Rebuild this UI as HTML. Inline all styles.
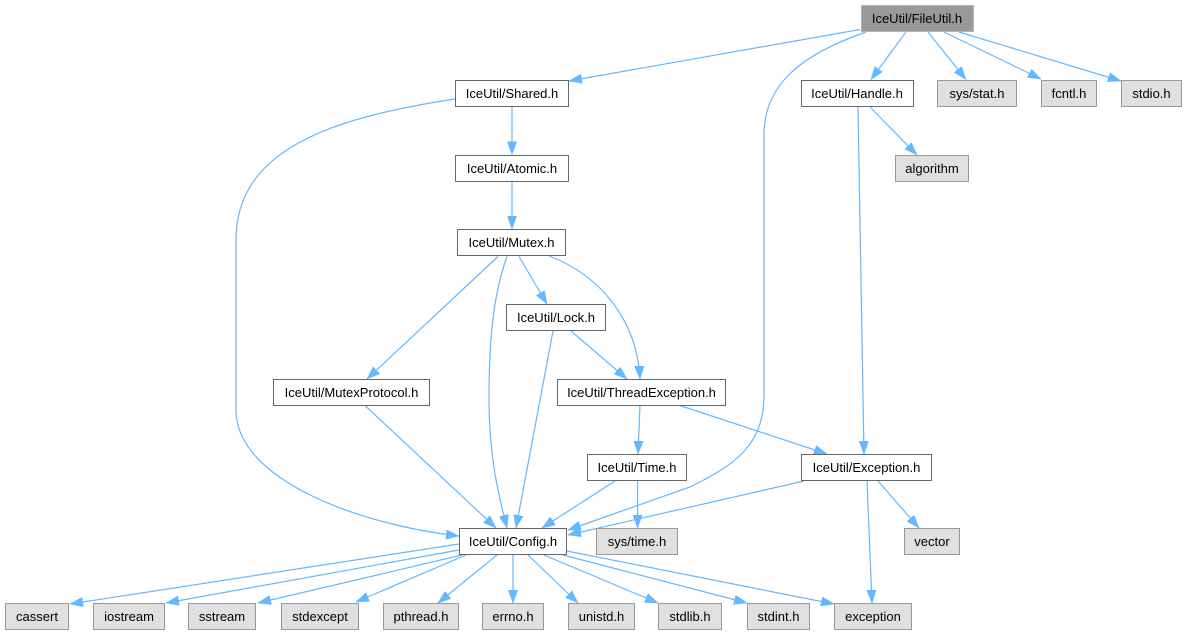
<!DOCTYPE html>
<html>
<head>
<meta charset="utf-8">
<style>
html,body{margin:0;padding:0;background:#fff;}
svg{display:block;}
text{font-family:"Liberation Sans",Arial,sans-serif;font-size:13px;fill:#000;text-anchor:middle;}
.e{fill:none;stroke:#63b8ff;stroke-width:1.2;marker-end:url(#ah);}
.n{fill:#fff;stroke:#666;stroke-width:1;}
.x{fill:#e0e0e0;stroke:#999;stroke-width:1;}
.r{fill:#999;stroke:#b5b5b5;stroke-width:1;}
</style>
</head>
<body>
<svg width="1188" height="635" viewBox="0 0 1188 635" xmlns="http://www.w3.org/2000/svg">
<defs>
<marker id="ah" viewBox="0 0 13 9.5" refX="13" refY="4.75" markerWidth="13" markerHeight="9.5" markerUnits="userSpaceOnUse" orient="auto">
<path d="M0,0 L13,4.75 L0,9.5 z" fill="#63b8ff" stroke="#63b8ff" stroke-width="0.5"/>
</marker>
</defs>

<!-- edges -->
<path class="e" d="M860,29.5 L569,81"/>
<path class="e" d="M866,32 C800,55 764,85 764,135 L764,395 C764,445 735,465 690,487 L568,530"/>
<path class="e" d="M906,32 L871,79.5"/>
<path class="e" d="M928,32 L966,79.5"/>
<path class="e" d="M944,32 L1041,79"/>
<path class="e" d="M959,32 L1121,81"/>
<path class="e" d="M512,107 L512,154.5"/>
<path class="e" d="M455,99 C330,118 236,150 236,240 L236,410 C236,480 360,525 459,536"/>
<path class="e" d="M512,182 L512,229"/>
<path class="e" d="M498,256.5 L367,379"/>
<path class="e" d="M507,256.5 C495,290 489,330 489,400 C489,460 500,500 507,528"/>
<path class="e" d="M519,256.5 L547,304"/>
<path class="e" d="M549,256 C600,275 637,320 640,379"/>
<path class="e" d="M571,331 L627,379"/>
<path class="e" d="M553,331 L516,528"/>
<path class="e" d="M365,405.5 L496,528"/>
<path class="e" d="M640,405.5 L638,454"/>
<path class="e" d="M680,405.5 L827,454"/>
<path class="e" d="M870,107 L917,155"/>
<path class="e" d="M858,107 L864,454"/>
<path class="e" d="M878,481 L919,528"/>
<path class="e" d="M867,481 L872,603"/>
<path class="e" d="M637.5,481 L637.5,528"/>
<path class="e" d="M615,481 L542,528"/>
<path class="e" d="M804,481 L568,535"/>
<path class="e" d="M459,544 L70,604"/>
<path class="e" d="M459,550 L166,603"/>
<path class="e" d="M462,555 L258,603"/>
<path class="e" d="M466,555 L356,602"/>
<path class="e" d="M497,555 L438,603"/>
<path class="e" d="M513,555 L513,603"/>
<path class="e" d="M528,555 L578,603"/>
<path class="e" d="M544,555 L658,603"/>
<path class="e" d="M563,555 L747,603"/>
<path class="e" d="M567,551 L834,604"/>

<!-- nodes -->
<rect class="r" x="861.5" y="5.5" width="112" height="26"/><text x="917" y="23">IceUtil/FileUtil.h</text>

<rect class="n" x="455.5" y="80.5" width="113" height="26"/><text x="512" y="98">IceUtil/Shared.h</text>
<rect class="n" x="801.5" y="80.5" width="112" height="26"/><text x="857" y="98">IceUtil/Handle.h</text>
<rect class="x" x="937.5" y="80.5" width="79" height="26"/><text x="977" y="98">sys/stat.h</text>
<rect class="x" x="1041.5" y="80.5" width="55" height="26"/><text x="1069" y="98">fcntl.h</text>
<rect class="x" x="1121.5" y="80.5" width="60" height="26"/><text x="1151.5" y="98">stdio.h</text>

<rect class="n" x="455.5" y="155.5" width="113" height="26"/><text x="512" y="173">IceUtil/Atomic.h</text>
<rect class="x" x="895.5" y="155.5" width="73" height="26"/><text x="932" y="173">algorithm</text>

<rect class="n" x="457.5" y="229.5" width="108" height="26"/><text x="511.5" y="247">IceUtil/Mutex.h</text>

<rect class="n" x="506.5" y="304.5" width="99" height="26"/><text x="556" y="322">IceUtil/Lock.h</text>

<rect class="n" x="273.5" y="379.5" width="156" height="26"/><text x="351.5" y="397">IceUtil/MutexProtocol.h</text>
<rect class="n" x="557.5" y="379.5" width="168" height="26"/><text x="641.5" y="397">IceUtil/ThreadException.h</text>

<rect class="n" x="587.5" y="454.5" width="99" height="26"/><text x="637" y="472">IceUtil/Time.h</text>
<rect class="n" x="801.5" y="454.5" width="130" height="26"/><text x="866.5" y="472">IceUtil/Exception.h</text>

<rect class="n" x="459.5" y="528.5" width="107" height="26"/><text x="513" y="546">IceUtil/Config.h</text>
<rect class="x" x="596.5" y="528.5" width="81" height="26"/><text x="637" y="546">sys/time.h</text>
<rect class="x" x="904.5" y="528.5" width="55" height="26"/><text x="932" y="546">vector</text>

<rect class="x" x="5.5" y="603.5" width="63" height="26"/><text x="37" y="621">cassert</text>
<rect class="x" x="93.5" y="603.5" width="71" height="26"/><text x="129" y="621">iostream</text>
<rect class="x" x="188.5" y="603.5" width="67" height="26"/><text x="222" y="621">sstream</text>
<rect class="x" x="281.5" y="603.5" width="77" height="26"/><text x="320" y="621">stdexcept</text>
<rect class="x" x="383.5" y="603.5" width="75" height="26"/><text x="421" y="621">pthread.h</text>
<rect class="x" x="482.5" y="603.5" width="61" height="26"/><text x="513" y="621">errno.h</text>
<rect class="x" x="568.5" y="603.5" width="66" height="26"/><text x="601.5" y="621">unistd.h</text>
<rect class="x" x="658.5" y="603.5" width="63" height="26"/><text x="690" y="621">stdlib.h</text>
<rect class="x" x="747.5" y="603.5" width="62" height="26"/><text x="778.5" y="621">stdint.h</text>
<rect class="x" x="834.5" y="603.5" width="77" height="26"/><text x="873" y="621">exception</text>
</svg>
</body>
</html>
